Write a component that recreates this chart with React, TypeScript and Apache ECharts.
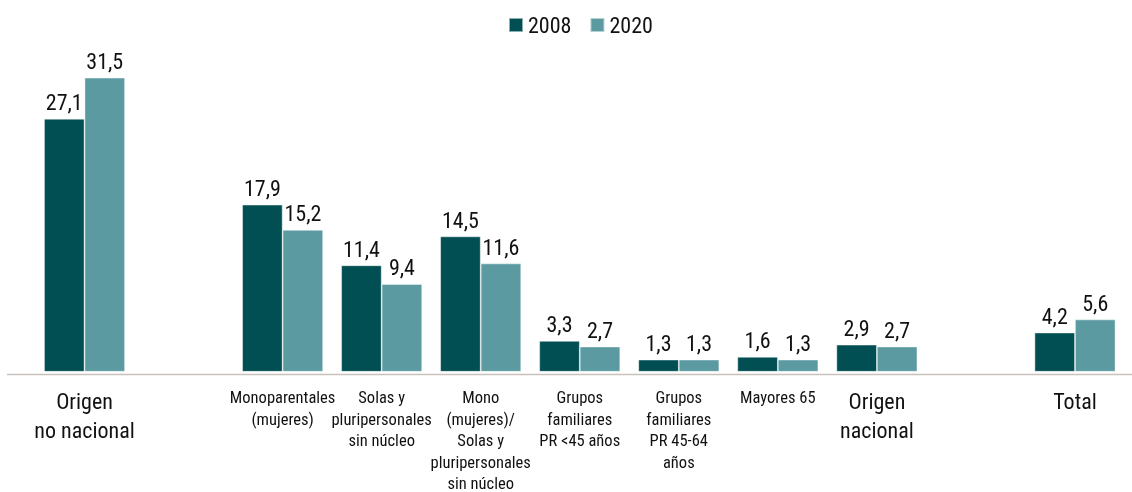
import React, { useEffect, useRef } from "react";
import * as echarts from "echarts";

const categories = [
  "Origen\nno nacional",
  "",
  "Monoparentales\n(mujeres)",
  "Solas y\npluripersonales\nsin núcleo",
  "Mono\n(mujeres)/\nSolas y\npluripersonales\nsin núcleo",
  "Grupos\nfamiliares\nPR <45 años",
  "Grupos\nfamiliares\nPR 45-64\naños",
  "Mayores 65",
  "Origen\nnacional",
  "",
  "Total",
];
const bigCategories = ["Origen\nno nacional", "Origen\nnacional", "Total"];
const values2008: (number | null)[] = [27.1, null, 17.9, 11.4, 14.5, 3.3, 1.3, 1.6, 2.9, null, 4.2];
const values2020: (number | null)[] = [31.5, null, 15.2, 9.4, 11.6, 2.7, 1.3, 1.3, 2.7, null, 5.6];
const seriesNames = ["2008", "2020"];
const colors = ["#024f53", "#5a9aa0"];

const FONT = "'Roboto Condensed', 'Liberation Sans', sans-serif";

export default function App() {
  const ref = useRef<HTMLDivElement>(null);
  useEffect(() => {
    const chart = echarts.init(ref.current!, null, { renderer: "svg" });
    const gridTop = 45;
    const gridHeight = 328.5;
    const labelFmt = (p: any) => (p.value == null ? "" : String(p.value).replace(".", ","));
    chart.setOption({
      animation: false,
      textStyle: { fontFamily: FONT },
      legend: {
        data: seriesNames,
        left: 508,
        top: 14,
        padding: 0,
        itemWidth: 14,
        itemHeight: 14,
        itemGap: 18,
        icon: "rect",
        textStyle: { fontFamily: FONT, fontSize: 22, color: "#111" },
      },
      grid: { left: 35, right: 7.5, top: gridTop, height: gridHeight, containLabel: false },
      xAxis: {
        type: "category",
        data: categories,
        axisLine: { show: false },
        axisTick: { show: false },
        axisLabel: {
          interval: 0,
          margin: 15,
          verticalAlign: "top",
          formatter: (v: string) =>
            v
              .split("\n")
              .map((line) => (bigCategories.includes(v) ? `{b|${line}}` : `{s|${line}}`))
              .join("\n"),
          rich: {
            s: { fontFamily: FONT, fontSize: 16.5, lineHeight: 21.5, color: "#111" },
            b: { fontFamily: FONT, fontSize: 22, lineHeight: 29, color: "#111" },
          },
        },
      },
      yAxis: {
        type: "value",
        min: 0,
        max: 35,
        show: false,
        splitLine: { show: false },
      },
      series: [values2008, values2020].map((vals, i) => ({
        name: seriesNames[i],
        type: "bar",
        data: vals.map((v) => (v == null ? "-" : v)),
        barWidth: 40.5,
        barGap: "0%",
        itemStyle: { color: colors[i], borderColor: "rgba(255,255,255,0.55)", borderWidth: 0.8 },
        label: {
          show: true,
          position: "top",
          distance: 5,
          formatter: labelFmt,
          fontFamily: FONT,
          fontSize: 22,
          color: "#111",
        },
      })),
      graphic: [
        {
          type: "line",
          shape: { x1: 7, y1: gridTop + gridHeight + 1, x2: 1132, y2: gridTop + gridHeight + 1 },
          style: { stroke: "#c9c1bb", lineWidth: 1.6 },
          z: 10,
        },
      ],
    });
    return () => chart.dispose();
  }, []);
  return <div ref={ref} style={{ position: "fixed", left: 0, top: 0, width: 1132, height: 492 }} />;
}
